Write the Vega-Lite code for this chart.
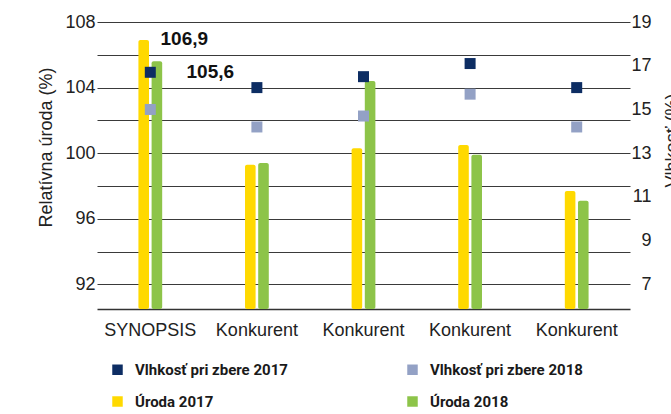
{
  "$schema": "https://vega.github.io/schema/vega-lite/v6.json",
  "autosize": {"type": "none"},
  "padding": {"left": 97, "top": 22, "right": 41, "bottom": 105},
  "width": 533,
  "height": 287,
  "background": "white",
  "config": {
    "view": {"stroke": null},
    "locale": {"number": {"decimal": ",", "thousands": " ", "grouping": [3], "currency": ["", " €"]}},
    "axis": {"labelFont": "Liberation Sans", "titleFont": "Liberation Sans"}
  },
  "data": {
    "values": [
      {"id": "SYNOPSIS", "series": "Úroda 2017", "kind": "yield", "value": 106.9},
      {"id": "SYNOPSIS", "series": "Úroda 2018", "kind": "yield", "value": 105.6},
      {"id": "Konkurent 1", "series": "Úroda 2017", "kind": "yield", "value": 99.3},
      {"id": "Konkurent 1", "series": "Úroda 2018", "kind": "yield", "value": 99.4},
      {"id": "Konkurent 2", "series": "Úroda 2017", "kind": "yield", "value": 100.3},
      {"id": "Konkurent 2", "series": "Úroda 2018", "kind": "yield", "value": 104.4},
      {"id": "Konkurent 3", "series": "Úroda 2017", "kind": "yield", "value": 100.5},
      {"id": "Konkurent 3", "series": "Úroda 2018", "kind": "yield", "value": 99.9},
      {"id": "Konkurent 4", "series": "Úroda 2017", "kind": "yield", "value": 97.7},
      {"id": "Konkurent 4", "series": "Úroda 2018", "kind": "yield", "value": 97.1},
      {"id": "SYNOPSIS", "series": "Vlhkosť pri zbere 2017", "kind": "moisture", "value": 16.7},
      {"id": "SYNOPSIS", "series": "Vlhkosť pri zbere 2018", "kind": "moisture", "value": 15.0},
      {"id": "Konkurent 1", "series": "Vlhkosť pri zbere 2017", "kind": "moisture", "value": 16.0},
      {"id": "Konkurent 1", "series": "Vlhkosť pri zbere 2018", "kind": "moisture", "value": 14.2},
      {"id": "Konkurent 2", "series": "Vlhkosť pri zbere 2017", "kind": "moisture", "value": 16.5},
      {"id": "Konkurent 2", "series": "Vlhkosť pri zbere 2018", "kind": "moisture", "value": 14.7},
      {"id": "Konkurent 3", "series": "Vlhkosť pri zbere 2017", "kind": "moisture", "value": 17.1},
      {"id": "Konkurent 3", "series": "Vlhkosť pri zbere 2018", "kind": "moisture", "value": 15.7},
      {"id": "Konkurent 4", "series": "Vlhkosť pri zbere 2017", "kind": "moisture", "value": 16.0},
      {"id": "Konkurent 4", "series": "Vlhkosť pri zbere 2018", "kind": "moisture", "value": 14.2}
    ]
  },
  "encoding": {
    "x": {
      "field": "id", "type": "nominal", "sort": null,
      "scale": {"paddingInner": 0.777, "paddingOuter": 0.3885},
      "axis": {
        "title": null, "labelAngle": 0, "labelExpr": "split(datum.label, ' ')[0]",
        "labelFontSize": 18, "labelColor": "#222222", "labelPadding": 12,
        "ticks": false, "domain": true, "domainColor": "#333333", "domainWidth": 1.5, "grid": false
      }
    },
    "color": {
      "field": "series", "type": "nominal",
      "scale": {
        "domain": ["Vlhkosť pri zbere 2017", "Vlhkosť pri zbere 2018", "Úroda 2017", "Úroda 2018"],
        "range": ["#0D2D63", "#93A1C5", "#FFD900", "#8DC449"]
      },
      "legend": {
        "title": null, "orient": "none", "legendX": 13, "legendY": 340, "columns": 2,
        "direction": "horizontal", "padding": 0,
        "columnPadding": 117, "rowPadding": 16,
        "symbolType": "square", "symbolSize": 110, "symbolStrokeWidth": 0, "symbolOpacity": 1,
        "labelFont": "Roboto", "labelFontWeight": "bold",
        "labelFontSize": 15, "labelColor": "#1a1a1a", "labelOffset": 10, "labelLimit": 300
      }
    }
  },
  "layer": [
    {
      "transform": [{"filter": "datum.kind == 'yield'"}],
      "mark": {"type": "bar", "cornerRadiusEnd": 2},
      "encoding": {
        "xOffset": {
          "field": "series", "type": "nominal",
          "scale": {"domain": ["Úroda 2017", "Úroda 2018"], "paddingInner": 0.197, "paddingOuter": 0}
        },
        "y": {
          "field": "value", "type": "quantitative",
          "scale": {"domain": [90.5, 108], "nice": false, "zero": false},
          "axis": {
            "title": "Relatívna úroda (%)", "values": [92, 94, 96, 98, 100, 102, 104, 106, 108],
            "labelExpr": "datum.value % 4 == 0 ? datum.label : ''",
            "grid": true, "gridColor": "#3a3a3a", "gridWidth": 1, "domain": false, "ticks": false,
            "labelFontSize": 18, "labelColor": "#222222", "labelPadding": 2,
            "titleFontSize": 18, "titleFontWeight": "normal", "titleColor": "#222222",
            "titleAngle": -90, "titleBaseline": "top", "titleAlign": "center", "titleX": -60, "titleY": 125
          }
        },
        "y2": {"datum": 90.5}
      }
    },
    {
      "transform": [{"filter": "datum.kind == 'moisture'"}],
      "mark": {"type": "square", "size": 121, "opacity": 1, "filled": true},
      "encoding": {
        "y": {
          "field": "value", "type": "quantitative",
          "scale": {"domain": [5.875, 19], "nice": false, "zero": false},
          "axis": {
            "orient": "right", "title": "Vlhkosť (%)", "values": [7, 9, 11, 13, 15, 17, 19],
            "grid": false, "domain": false, "ticks": false,
            "labelFontSize": 18, "labelColor": "#222222", "labelAlign": "right", "labelPadding": 21,
            "titleFontSize": 18, "titleFontWeight": "normal", "titleColor": "#222222",
            "titleAngle": -90, "titleBaseline": "top", "titleAlign": "center", "titleX": 33, "titleY": 118
          }
        }
      }
    },
    {
      "transform": [{"filter": "datum.id == 'SYNOPSIS' && datum.series == 'Úroda 2017'"}],
      "mark": {"type": "text", "dx": 34, "dy": -1, "align": "center", "baseline": "middle", "font": "Liberation Sans", "fontWeight": "bold", "fontSize": 19, "color": "#111111"},
      "encoding": {
        "y": {"field": "value", "type": "quantitative", "scale": {"domain": [90.5, 108], "nice": false, "zero": false}, "axis": null},
        "text": {"field": "value", "type": "quantitative", "format": ".1f"},
        "color": {"value": "#111111"}
      }
    },
    {
      "transform": [{"filter": "datum.id == 'SYNOPSIS' && datum.series == 'Úroda 2018'"}],
      "mark": {"type": "text", "dx": 60, "dy": 11, "align": "center", "baseline": "middle", "font": "Liberation Sans", "fontWeight": "bold", "fontSize": 19, "color": "#111111"},
      "encoding": {
        "y": {"field": "value", "type": "quantitative", "scale": {"domain": [90.5, 108], "nice": false, "zero": false}, "axis": null},
        "text": {"field": "value", "type": "quantitative", "format": ".1f"},
        "color": {"value": "#111111"}
      }
    }
  ],
  "resolve": {"scale": {"y": "independent"}}
}
